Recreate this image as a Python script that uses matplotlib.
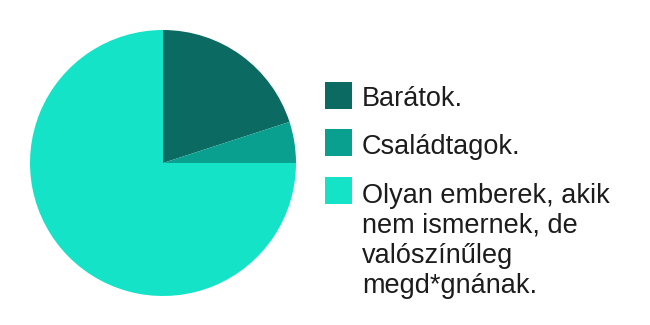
import matplotlib
matplotlib.use('Agg')
import matplotlib.pyplot as plt
from matplotlib.patches import Rectangle

plt.rcParams['font.family'] = ['Liberation Sans', 'DejaVu Sans']

# adatok
labels = ['Barátok.', 'Családtagok.',
          'Olyan emberek, akik\nnem ismernek, de\nvalószínűleg\nmegd*gnának.']
values = [20, 5, 75]
colors = ['#0b6b62', '#0aa08f', '#14e3c8']

W, H = 650, 325
fig = plt.figure(figsize=(W / 100, H / 100), dpi=100)

# kördiagram
ax = fig.add_axes([30 / W, (H - 296) / H, 266 / W, 266 / H])
ax.pie(values, colors=colors, startangle=90, counterclock=False,
       wedgeprops=dict(linewidth=0))
ax.set_xlim(-1, 1)
ax.set_ylim(-1, 1)
ax.set_aspect('equal')

# jelmagyarázat (kézzel); va='baseline' -> az utolsó sor alapvonala
sq_top = [82, 129, 177]
baselines = [106.5, 153.5, 293]
for lab, col, top, base in zip(labels, colors, sq_top, baselines):
    fig.add_artist(Rectangle((325 / W, (H - top - 27) / H), 27 / W, 27 / H,
                             transform=fig.transFigure, facecolor=col,
                             edgecolor='none'))
    fig.text(362 / W, (H - base) / H, lab, fontsize=19.5, color='#1c1c1c',
             ha='left', va='baseline', linespacing=1.2)

fig.savefig('out.png', dpi=100, facecolor='white')
